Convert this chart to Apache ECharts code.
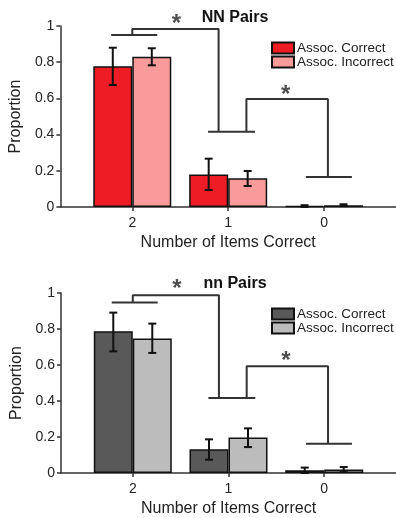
<!DOCTYPE html>
<html>
<head>
<meta charset="utf-8">
<script src="https://cdn.jsdelivr.net/npm/echarts@6/dist/echarts.min.js"></script>
<style>
  html, body { margin: 0; padding: 0; background: #ffffff; }
  #chart { width: 396px; height: 518px; }
</style>
</head>
<body>
<div id="chart"></div>
<script>
// categories (x positions 1,2,3 on the axis)
var xPos = [1, 2, 3];
var xLabels = ['2', '1', '0'];
var seriesNames = ['Assoc. Correct', 'Assoc. Incorrect'];

// NN Pairs
var nnCorrect = [0.777, 0.180, 0.005];
var nnCorrectLo = [0.674, 0.094, 0.0];
var nnCorrectHi = [0.880, 0.267, 0.010];
var nnIncorrect = [0.830, 0.159, 0.010];
var nnIncorrectLo = [0.783, 0.116, 0.005];
var nnIncorrectHi = [0.877, 0.199, 0.015];

// nn Pairs
var lnCorrect = [0.787, 0.132, 0.015];
var lnCorrectLo = [0.676, 0.074, 0.0];
var lnCorrectHi = [0.891, 0.187, 0.030];
var lnIncorrect = [0.747, 0.197, 0.019];
var lnIncorrectLo = [0.667, 0.144, 0.005];
var lnIncorrectHi = [0.830, 0.248, 0.033];

// significance brackets (x, y in axis units)
var bracketsTop = [
  [[0.78, 0.950], [1.26, 0.950]],
  [[1.0, 0.950], [1.0, 0.983], [1.90, 0.983], [1.90, 0.416]],
  [[1.79, 0.416], [2.28, 0.416]],
  [[2.19, 0.416], [2.19, 0.597], [3.04, 0.597], [3.04, 0.166]],
  [[2.81, 0.166], [3.29, 0.166]]
];
var bracketsBottom = [
  [[0.78, 0.947], [1.26, 0.947]],
  [[1.0, 0.947], [1.0, 0.987], [1.90, 0.987], [1.90, 0.417]],
  [[1.79, 0.417], [2.28, 0.417]],
  [[2.19, 0.417], [2.19, 0.593], [3.04, 0.593], [3.04, 0.163]],
  [[2.81, 0.163], [3.29, 0.163]]
];
var starsTop = [[1.46, 1.03], [2.60, 0.637]];
var starsBottom = [[1.46, 1.04], [2.60, 0.643]];

var BAR_W = 39;
var FONT = 'Liberation Sans, Arial, sans-serif';
var INK = '#222';

var chart = echarts.init(document.getElementById('chart'), null, {renderer: 'canvas'});

function xAxisOf(idx) {
  return {
    type: 'value', gridIndex: idx, min: 0.25, max: 3.75,
    name: 'Number of Items Correct', nameLocation: 'middle', nameGap: 28,
    nameTextStyle: {fontFamily: FONT, fontSize: 16, color: INK},
    axisLine: {lineStyle: {color: '#333', width: 1.5}},
    axisTick: {show: true, length: 4, customValues: xPos, lineStyle: {color: '#333', width: 1.5}},
    axisLabel: {
      customValues: xPos, margin: 9,
      fontFamily: FONT, fontSize: 14, color: INK,
      formatter: function (v) { return xLabels[Math.round(v) - 1]; }
    },
    splitLine: {show: false}
  };
}

function yAxisOf(idx) {
  return {
    type: 'value', gridIndex: idx, min: 0, max: 1, interval: 0.2,
    name: 'Proportion', nameLocation: 'middle', nameGap: 31,
    nameTextStyle: {fontFamily: FONT, fontSize: 16, color: INK},
    axisLine: {show: true, lineStyle: {color: '#333', width: 1.5}},
    axisTick: {show: true, length: 4, lineStyle: {color: '#333', width: 1.5}},
    axisLabel: {margin: 6, fontFamily: FONT, fontSize: 14, color: INK},
    splitLine: {show: false}
  };
}

function barSeries(idx, name, vals, color) {
  return {
    type: 'bar', name: name, xAxisIndex: idx, yAxisIndex: idx,
    barWidth: BAR_W, barGap: '0%',
    data: xPos.map(function (x, i) { return [x, vals[i]]; }),
    itemStyle: {color: color, borderColor: '#111', borderWidth: 1.5},
    emphasis: {disabled: true},
    z: 2
  };
}

function errSeries(idx, lo, hi, side) {
  return {
    type: 'custom', xAxisIndex: idx, yAxisIndex: idx,
    data: xPos.map(function (x, i) { return [x, lo[i], hi[i]]; }),
    renderItem: function (params, api) {
      var off = side * BAR_W / 2;
      var a = api.coord([api.value(0), api.value(1)]);
      var b = api.coord([api.value(0), api.value(2)]);
      var x = a[0] + off, cap = 4;
      var st = {stroke: '#111', lineWidth: 2};
      return {
        type: 'group',
        children: [
          {type: 'line', shape: {x1: x, y1: a[1], x2: x, y2: b[1]}, style: st},
          {type: 'line', shape: {x1: x - cap, y1: a[1], x2: x + cap, y2: a[1]}, style: st},
          {type: 'line', shape: {x1: x - cap, y1: b[1], x2: x + cap, y2: b[1]}, style: st}
        ]
      };
    },
    z: 3
  };
}

function bracketSeries(idx, paths) {
  return paths.map(function (p) {
    return {
      type: 'line', xAxisIndex: idx, yAxisIndex: idx, data: p,
      symbol: 'none', clip: false, silent: true,
      lineStyle: {color: '#333', width: 2}, z: 4
    };
  });
}

function starSeries(idx, pts) {
  return {
    type: 'scatter', xAxisIndex: idx, yAxisIndex: idx, data: pts,
    symbolSize: 0, clip: false, silent: true,
    label: {
      show: true, position: 'inside', formatter: '*', offset: [0, 4],
      fontFamily: FONT, fontSize: 24, fontWeight: 'bold', color: INK
    },
    z: 5
  };
}

function legendOf(names, top) {
  return {
    data: names, orient: 'vertical', left: 266, top: top, itemGap: 0,
    icon: 'rect', itemWidth: 22, itemHeight: 11, selectedMode: false,
    textStyle: {fontFamily: FONT, fontSize: 13.5, lineHeight: 13, color: INK, padding: [0, 0, 0, -2]}
  };
}

var option = {
  backgroundColor: '#ffffff',
  animation: false,
  title: [
    {text: 'NN Pairs', left: 230, top: 5, textAlign: 'center',
      textStyle: {fontFamily: FONT, fontSize: 16, fontWeight: 'bold', color: '#111'}},
    {text: 'nn Pairs', left: 230, top: 271, textAlign: 'center',
      textStyle: {fontFamily: FONT, fontSize: 16, fontWeight: 'bold', color: '#111'}}
  ],
  legend: [
    legendOf(seriesNames.slice(), 36),
    legendOf(['Assoc. Correct ', 'Assoc. Incorrect '], 302)
  ],
  grid: [
    {left: 60, top: 26, width: 340, height: 181},
    {left: 61, top: 293, width: 340, height: 180}
  ],
  xAxis: [xAxisOf(0), xAxisOf(1)],
  yAxis: [yAxisOf(0), yAxisOf(1)],
  series: [
    barSeries(0, seriesNames[0], nnCorrect, '#ee1c24'),
    barSeries(0, seriesNames[1], nnIncorrect, '#f99b9b'),
    barSeries(1, 'Assoc. Correct ', lnCorrect, '#595959'),
    barSeries(1, 'Assoc. Incorrect ', lnIncorrect, '#bcbcbc'),
    errSeries(0, nnCorrectLo, nnCorrectHi, -1),
    errSeries(0, nnIncorrectLo, nnIncorrectHi, 1),
    errSeries(1, lnCorrectLo, lnCorrectHi, -1),
    errSeries(1, lnIncorrectLo, lnIncorrectHi, 1),
    starSeries(0, starsTop),
    starSeries(1, starsBottom)
  ].concat(bracketSeries(0, bracketsTop), bracketSeries(1, bracketsBottom))
};

chart.setOption(option);
</script>
</body>
</html>
